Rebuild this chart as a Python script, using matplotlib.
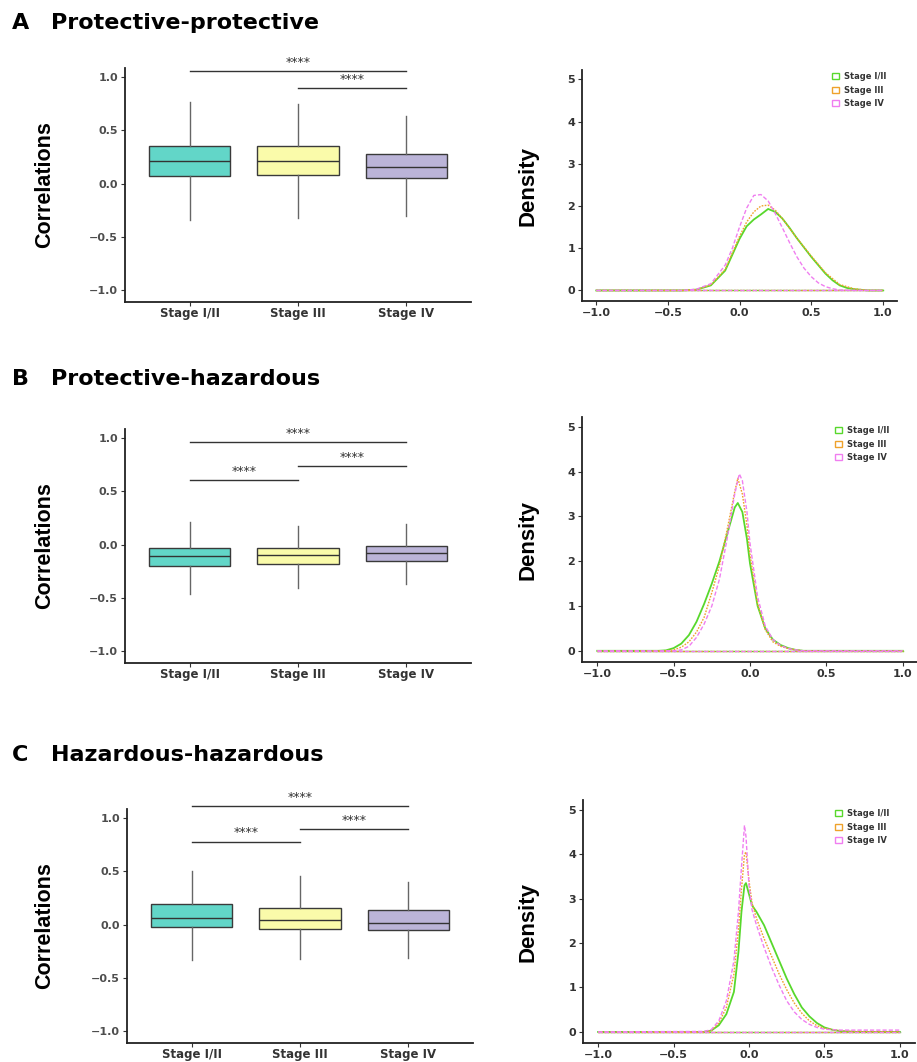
import numpy as np
import matplotlib.pyplot as plt
from matplotlib.patches import Patch

W, H = 917, 1062

stages = ['Stage I/II', 'Stage III', 'Stage IV']
box_colors = ['#62D6C8', '#FAFBAA', '#BBB4D8']
dens_colors = ['#58D82C', '#EFA22B', '#F07EF0']

# box statistics
pp_whislo = [-0.34, -0.32, -0.30]
pp_q1 = [0.07, 0.085, 0.05]
pp_med = [0.21, 0.21, 0.16]
pp_q3 = [0.35, 0.35, 0.28]
pp_whishi = [0.77, 0.75, 0.635]

ph_whislo = [-0.46, -0.41, -0.37]
ph_q1 = [-0.20, -0.18, -0.15]
ph_med = [-0.11, -0.10, -0.08]
ph_q3 = [-0.035, -0.035, -0.01]
ph_whishi = [0.21, 0.175, 0.19]

hh_whislo = [-0.33, -0.32, -0.31]
hh_q1 = [-0.02, -0.04, -0.05]
hh_med = [0.065, 0.04, 0.02]
hh_q3 = [0.19, 0.16, 0.135]
hh_whishi = [0.50, 0.455, 0.40]

# significance brackets: (group from, group to, height)
pp_sig = [(1, 3, 1.06), (2, 3, 0.90)]
ph_sig = [(1, 3, 0.96), (2, 3, 0.735), (1, 2, 0.61)]
hh_sig = [(1, 3, 1.11), (2, 3, 0.90), (1, 2, 0.78)]

# density curves
pp_x12 = [-1.0, -0.4, -0.3, -0.2, -0.1, 0.0, 0.05, 0.1, 0.15, 0.2, 0.25, 0.3, 0.35, 0.4, 0.45, 0.5, 0.55, 0.6, 0.65, 0.7, 0.75, 0.8, 0.9, 1.0]
pp_d12 = [0, 0, 0.02, 0.12, 0.47, 1.22, 1.52, 1.68, 1.80, 1.93, 1.86, 1.70, 1.48, 1.24, 1.02, 0.80, 0.60, 0.40, 0.24, 0.12, 0.06, 0.03, 0.0, 0]
pp_x3 = [-1.0, -0.4, -0.3, -0.2, -0.1, 0.0, 0.05, 0.1, 0.15, 0.2, 0.25, 0.3, 0.35, 0.4, 0.5, 0.6, 0.7, 0.8, 0.9, 1.0]
pp_d3 = [0, 0, 0.02, 0.13, 0.5, 1.28, 1.62, 1.86, 2.0, 2.02, 1.9, 1.7, 1.47, 1.24, 0.82, 0.42, 0.14, 0.04, 0.0, 0]
pp_x4 = [-1.0, -0.4, -0.3, -0.2, -0.1, -0.05, 0.0, 0.05, 0.1, 0.15, 0.2, 0.25, 0.3, 0.35, 0.4, 0.45, 0.5, 0.55, 0.6, 0.65, 0.7, 0.8, 1.0]
pp_d4 = [0, 0, 0.03, 0.16, 0.6, 1.0, 1.5, 1.95, 2.25, 2.27, 2.12, 1.82, 1.48, 1.13, 0.8, 0.53, 0.33, 0.18, 0.09, 0.04, 0.01, 0, 0]

ph_x12 = [-1.0, -0.6, -0.55, -0.5, -0.45, -0.4, -0.35, -0.3, -0.25, -0.2, -0.15, -0.1, -0.08, -0.05, -0.02, 0.0, 0.05, 0.1, 0.15, 0.2, 0.25, 0.3, 0.35, 1.0]
ph_d12 = [0, 0, 0.01, 0.06, 0.16, 0.35, 0.65, 1.05, 1.5, 2.0, 2.6, 3.2, 3.3, 3.1, 2.5, 1.95, 1.0, 0.5, 0.25, 0.13, 0.06, 0.02, 0.0, 0]
ph_x3 = [-1.0, -0.55, -0.5, -0.45, -0.4, -0.35, -0.3, -0.25, -0.2, -0.15, -0.1, -0.08, -0.05, -0.02, 0.0, 0.05, 0.1, 0.15, 0.2, 0.25, 0.3, 0.35, 1.0]
ph_d3 = [0, 0, 0.02, 0.08, 0.2, 0.42, 0.75, 1.3, 1.9, 2.7, 3.55, 3.85, 3.5, 2.8, 2.15, 1.05, 0.47, 0.2, 0.1, 0.05, 0.02, 0, 0]
ph_x4 = [-1.0, -0.5, -0.45, -0.4, -0.35, -0.3, -0.25, -0.2, -0.15, -0.1, -0.07, -0.05, -0.02, 0.0, 0.05, 0.1, 0.15, 0.2, 0.25, 0.3, 0.35, 1.0]
ph_d4 = [0, 0, 0.02, 0.1, 0.3, 0.6, 1.0, 1.6, 2.5, 3.5, 3.95, 3.8, 3.1, 2.4, 1.2, 0.55, 0.25, 0.12, 0.05, 0.02, 0, 0]

hh_x12 = [-1.0, -0.3, -0.25, -0.2, -0.15, -0.1, -0.07, -0.05, -0.03, -0.02, 0.0, 0.02, 0.05, 0.1, 0.15, 0.2, 0.25, 0.3, 0.35, 0.4, 0.45, 0.5, 0.55, 0.6, 0.7, 1.0]
hh_d12 = [0, 0, 0.03, 0.15, 0.4, 0.9, 1.8, 2.7, 3.3, 3.35, 3.1, 2.85, 2.7, 2.4, 2.0, 1.6, 1.2, 0.85, 0.55, 0.35, 0.2, 0.1, 0.05, 0.02, 0, 0]
hh_x3 = [-1.0, -0.3, -0.25, -0.2, -0.15, -0.1, -0.07, -0.05, -0.03, -0.02, 0.0, 0.02, 0.05, 0.1, 0.15, 0.2, 0.25, 0.3, 0.35, 0.4, 0.45, 0.5, 0.6, 0.7, 1.0]
hh_d3 = [0, 0, 0.03, 0.2, 0.55, 1.3, 2.3, 3.2, 4.0, 4.05, 3.4, 2.9, 2.55, 2.1, 1.7, 1.3, 0.95, 0.65, 0.42, 0.25, 0.14, 0.08, 0.03, 0.01, 0]
hh_x4 = [-1.0, -0.3, -0.25, -0.2, -0.15, -0.1, -0.07, -0.05, -0.03, -0.02, 0.0, 0.02, 0.05, 0.1, 0.15, 0.2, 0.25, 0.3, 0.35, 0.4, 0.45, 0.5, 0.6, 0.8, 1.0]
hh_d4 = [0, 0.01, 0.05, 0.25, 0.7, 1.6, 2.7, 3.7, 4.65, 4.4, 3.3, 2.75, 2.4, 1.9, 1.45, 1.05, 0.7, 0.45, 0.28, 0.17, 0.1, 0.06, 0.04, 0.04, 0.04]

panels = [
    ('A', 'Protective-protective', 23,
     (pp_whislo, pp_q1, pp_med, pp_q3, pp_whishi), pp_sig,
     [(pp_x12, pp_d12), (pp_x3, pp_d3), (pp_x4, pp_d4)],
     (125, 68, 471, 302), (582, 70, 897, 301), (832, 72)),
    ('B', 'Protective-hazardous', 379,
     (ph_whislo, ph_q1, ph_med, ph_q3, ph_whishi), ph_sig,
     [(ph_x12, ph_d12), (ph_x3, ph_d3), (ph_x4, ph_d4)],
     (125, 429, 471, 663), (582, 417, 918, 662), (835, 426)),
    ('C', 'Hazardous-hazardous', 755,
     (hh_whislo, hh_q1, hh_med, hh_q3, hh_whishi), hh_sig,
     [(hh_x12, hh_d12), (hh_x3, hh_d3), (hh_x4, hh_d4)],
     (127, 809, 473, 1043), (583, 800, 915, 1043), (835, 809)),
]

fig = plt.figure(figsize=(W / 100, H / 100), dpi=100)


def px_axes(l, t, r, b):
    return fig.add_axes([l / W, 1 - b / H, (r - l) / W, (b - t) / H])


def style_axes(ax):
    for s in ['top', 'right']:
        ax.spines[s].set_visible(False)
    for s in ['left', 'bottom']:
        ax.spines[s].set_color('#222222')
        ax.spines[s].set_linewidth(1.3)
    ax.tick_params(length=3, width=0.8, color='#333333', pad=2)
    for lab in ax.get_xticklabels() + ax.get_yticklabels():
        lab.set_fontweight('bold')


dash_styles = ['-', (0, (1.2, 1.0)), (0, (3.0, 1.5))]

for letter, title, ty, stats, sig, curves, bpos, dpos, lpos in panels:
    fig.text(12 / W, 1 - ty / H, letter, fontsize=16, fontweight='bold', va='center')
    fig.text(51 / W, 1 - ty / H, title, fontsize=16, fontweight='bold', va='center')

    # box plot
    ax = px_axes(*bpos)
    bstats = []
    for i in range(3):
        bstats.append(dict(whislo=stats[0][i], q1=stats[1][i], med=stats[2][i],
                           q3=stats[3][i], whishi=stats[4][i], fliers=[]))
    bp = ax.bxp(bstats, positions=[1, 2, 3], widths=0.75, patch_artist=True,
                showcaps=False, showfliers=False,
                boxprops=dict(edgecolor='#3A3A3A', linewidth=1.0),
                medianprops=dict(color='#333333', linewidth=1.0),
                whiskerprops=dict(color='#666666', linewidth=1.0))
    for patch, c in zip(bp['boxes'], box_colors):
        patch.set_facecolor(c)
    for i, j, y in sig:
        ax.plot([i, j], [y, y], color='#333333', lw=1.0, clip_on=False)
        ax.text((i + j) / 2, y + 0.08, '****', ha='center', va='center',
                fontsize=9, color='#333333', clip_on=False)
    ax.set_xlim(0.4, 3.6)
    ax.set_ylim(-1.11, 1.085)
    ax.set_xticks([1, 2, 3])
    ax.set_xticklabels(stages, fontsize=8.5, color='#333333')
    ax.set_yticks([-1.0, -0.5, 0.0, 0.5, 1.0])
    ax.set_yticklabels([f'{v:.1f}'.replace('-', '\u2212') for v in [-1.0, -0.5, 0.0, 0.5, 1.0]],
                       fontsize=8, color='#4D4D4D')
    style_axes(ax)
    ax.tick_params(axis='x', pad=0.5)
    fig.text(45 / W, 1 - ((bpos[1] + bpos[3]) / 2) / H, 'Correlations', rotation=90,
             ha='center', va='center', fontsize=15.5, fontweight='bold',
             family='Liberation Sans')

    # density plot
    ax2 = px_axes(*dpos)
    handles = []
    for (x, d), c, ls in zip(curves, dens_colors, dash_styles):
        ax2.plot([x[0], x[-1]], [0, 0], color=c, lw=1.0, linestyle=ls)
        ax2.plot(x, d, color=c, lw=1.3 if ls == '-' else 1.0, linestyle=ls)
        handles.append(Patch(facecolor='none', edgecolor=c, linewidth=1.0))
    ax2.set_xlim(-1.1, 1.1)
    ax2.set_ylim(-0.25, 5.22)
    ax2.set_xticks([-1.0, -0.5, 0.0, 0.5, 1.0])
    ax2.set_xticklabels([f'{v:.1f}'.replace('-', '\u2212') for v in [-1.0, -0.5, 0.0, 0.5, 1.0]],
                        fontsize=8, color='#333333')
    ax2.set_yticks([0, 1, 2, 3, 4, 5])
    ax2.set_yticklabels([str(v) for v in range(6)], fontsize=8, color='#333333')
    style_axes(ax2)
    ax2.legend(handles, stages, loc='upper left',
               bbox_to_anchor=(lpos[0] / W, 1 - lpos[1] / H), bbox_transform=fig.transFigure,
               frameon=False, prop=dict(weight='bold', size=6),
               handlelength=0.8, handleheight=0.8, handletextpad=0.6,
               labelspacing=0.55, borderpad=0, borderaxespad=0, labelcolor='#333333')
    fig.text(528 / W, 1 - ((dpos[1] + dpos[3]) / 2) / H, 'Density', rotation=90,
             ha='center', va='center', fontsize=16, fontweight='bold',
             family='Liberation Sans')

fig.savefig('out.png', dpi=100)
